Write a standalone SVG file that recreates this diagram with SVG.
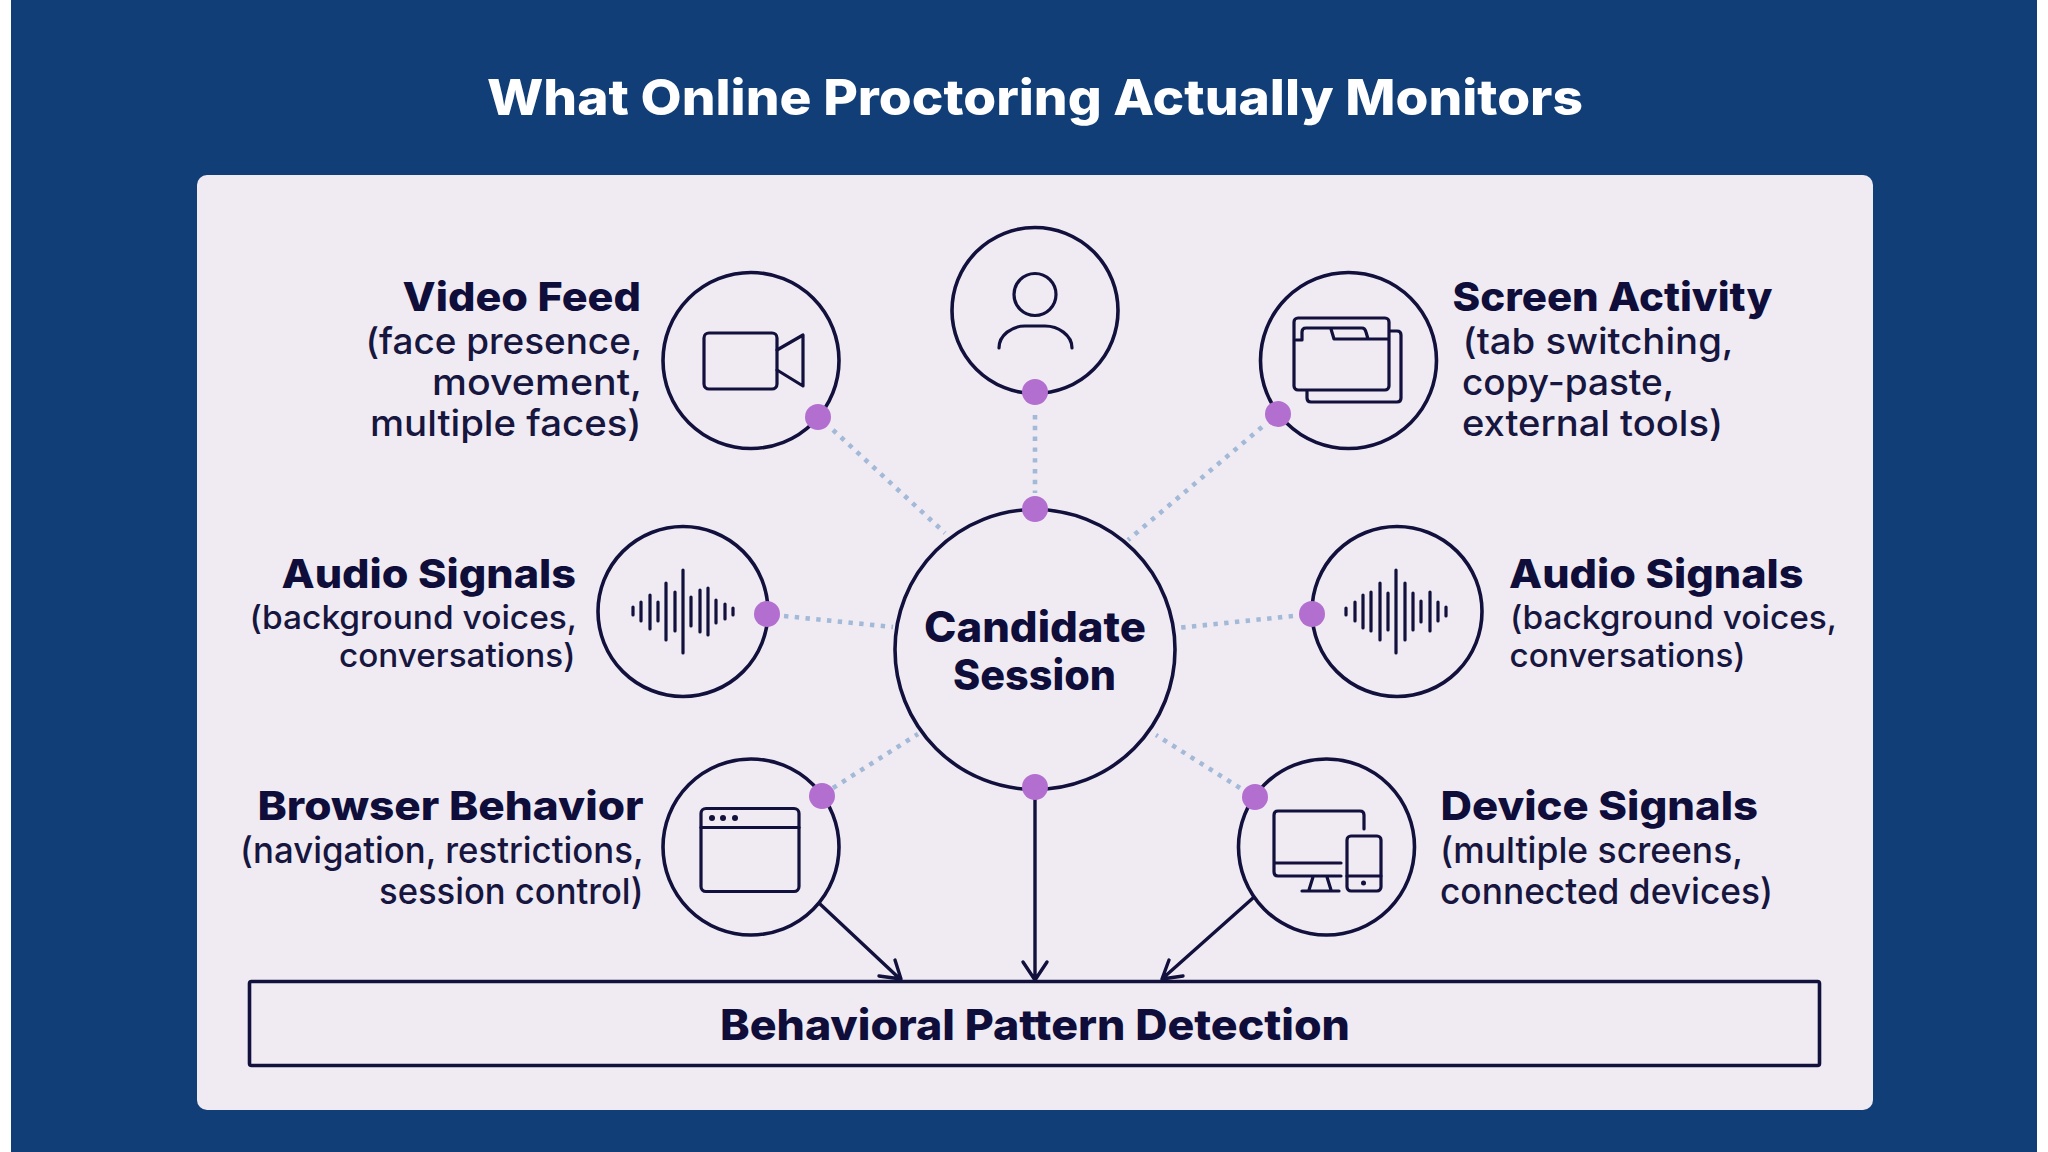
<svg xmlns="http://www.w3.org/2000/svg" width="2048" height="1152" viewBox="0 0 2048 1152">
<style>
text{font-family:"Inter","Liberation Sans",sans-serif;fill:#0e0c38}
.h{font-size:40px;font-weight:800;fill:#0f0d3a}
.b{font-size:36px;font-weight:500;fill:#17163f}
.s{font-size:33px;font-weight:500;fill:#17163f}
.c{font-size:42px;font-weight:800;fill:#0f0d3a}
.ring{fill:none;stroke:#12103c;stroke-width:3.600}
.i{fill:none;stroke:#12103c;stroke-width:3.200;stroke-linejoin:round;stroke-linecap:round}
.w{stroke:#12103c;stroke-width:3.200;stroke-linecap:round}
.dot{stroke:#a3b9d8;stroke-width:4.600;stroke-dasharray:4.400 6.400;fill:none}
.pt{fill:#b26fcf}
.arr{stroke:#12103c;stroke-width:3.400;fill:none;stroke-linecap:round;stroke-linejoin:round}
</style>
<g id="background">
<rect x="0" y="0" width="2048" height="1152" fill="#ffffff"/>
<rect x="11" y="0" width="2026" height="1152" fill="#113e77"/>
<rect x="197" y="175" width="1676" height="935" rx="10" fill="#f0ebf3"/>
</g>
<text id="title" x="487" y="115" textLength="1096" lengthAdjust="spacingAndGlyphs" style="font-size:49px;font-weight:800;fill:#ffffff">What Online Proctoring Actually Monitors</text>

<g id="node-person">
<circle class="ring" cx="1035" cy="310.500" r="83"/>
<circle class="i" cx="1035" cy="294.500" r="21"/>
<path class="i" d="M999 348C999 335 1012 326 1025 326H1045C1058 326 1072 335 1072 348"/>
</g>

<g id="node-video">
<circle class="ring" cx="751" cy="360.500" r="88"/>
<rect class="i" x="704" y="333" width="73" height="56" rx="5"/>
<path class="i" d="M777 350L803 335V386L777 370"/>
<text class="h" x="402.500" y="311" textLength="238.500" lengthAdjust="spacingAndGlyphs">Video Feed</text>
<text class="b" x="365.500" y="354" textLength="276.500" lengthAdjust="spacingAndGlyphs">(face presence,</text>
<text class="b" x="432" y="395" textLength="210" lengthAdjust="spacingAndGlyphs">movement,</text>
<text class="b" x="370" y="436" textLength="271.500" lengthAdjust="spacingAndGlyphs">multiple faces)</text>
</g>

<g id="node-screen">
<circle class="ring" cx="1348.500" cy="360.500" r="88"/>
<rect class="i" x="1294" y="318" width="95" height="72" rx="4"/>
<path class="i" d="M1390 331H1397Q1401 331 1401 335V398Q1401 402 1397 402H1311Q1307 402 1307 398V391"/>
<path class="i" d="M1296 340H1302V332Q1302 328 1306 328H1362Q1365 328 1366 332L1368 339H1388M1331 329L1334 339H1368"/>
<text class="h" x="1452.500" y="311" textLength="320" lengthAdjust="spacingAndGlyphs">Screen Activity</text>
<text class="b" x="1462.500" y="354" textLength="271" lengthAdjust="spacingAndGlyphs">(tab switching,</text>
<text class="b" x="1462" y="395" textLength="212" lengthAdjust="spacingAndGlyphs">copy-paste,</text>
<text class="b" x="1462" y="436" textLength="261" lengthAdjust="spacingAndGlyphs">external tools)</text>
</g>

<g id="node-audio-left">
<circle class="ring" cx="683" cy="611.500" r="85"/>
<path class="w" d="M633 607V615M641 602V621M650 595V629M658 602V621M666 583V640M675 592V631M683 570V653M691 597V626M700 590V632M708 588V635M716 600V623M725 604V619M733 608V615"/>
<text class="h" x="281.500" y="588" textLength="294.500" lengthAdjust="spacingAndGlyphs">Audio Signals</text>
<text class="s" x="249.500" y="629" textLength="327.500" lengthAdjust="spacingAndGlyphs">(background voices,</text>
<text class="s" x="339" y="667" textLength="236.500" lengthAdjust="spacingAndGlyphs">conversations)</text>
</g>

<g id="node-audio-right">
<circle class="ring" cx="1397" cy="611.500" r="85"/>
<path class="w" d="M1346 608V615M1355 602V621M1363 595V628M1371 592V631M1380 583V640M1388 593V630M1396 570V653M1405 583V640M1413 593V630M1421 601V622M1430 592V631M1438 602V621M1446 607V616"/>
<text class="h" x="1509" y="588" textLength="294.500" lengthAdjust="spacingAndGlyphs">Audio Signals</text>
<text class="s" x="1510" y="629" textLength="327" lengthAdjust="spacingAndGlyphs">(background voices,</text>
<text class="s" x="1509.500" y="667" textLength="236" lengthAdjust="spacingAndGlyphs">conversations)</text>
</g>

<g id="node-browser">
<circle class="ring" cx="751" cy="847" r="88"/>
<rect class="i" x="701" y="808.500" width="98" height="83" rx="5"/>
<path class="i" d="M701 827.500H799"/>
<circle cx="712" cy="818" r="3" fill="#12103c"/><circle cx="723" cy="818" r="3" fill="#12103c"/><circle cx="735" cy="818" r="3" fill="#12103c"/>
<text class="h" x="257.500" y="820" textLength="386" lengthAdjust="spacingAndGlyphs">Browser Behavior</text>
<text class="b" x="240" y="863" textLength="403.500" lengthAdjust="spacingAndGlyphs">(navigation, restrictions,</text>
<text class="b" x="379" y="904" textLength="264.500" lengthAdjust="spacingAndGlyphs">session control)</text>
</g>

<g id="node-device">
<circle class="ring" cx="1326.500" cy="847" r="88"/>
<path class="i" d="M1364 829V815Q1364 811 1360 811H1278Q1274 811 1274 815V872Q1274 876 1278 876H1341M1274 863H1341M1313 877L1309 890M1327 877L1331 890M1302 891H1339"/>
<rect class="i" x="1347" y="836" width="34" height="55" rx="4"/>
<path class="i" d="M1347 876H1381"/>
<circle cx="1363.500" cy="883" r="2.500" fill="#12103c"/>
<text class="h" x="1440.500" y="820" textLength="317.500" lengthAdjust="spacingAndGlyphs">Device Signals</text>
<text class="b" x="1440" y="863" textLength="303" lengthAdjust="spacingAndGlyphs">(multiple screens,</text>
<text class="b" x="1440" y="904" textLength="333" lengthAdjust="spacingAndGlyphs">connected devices)</text>
</g>

<g id="node-center">
<circle class="ring" cx="1035" cy="649.500" r="140"/>
<text class="c" x="924" y="642" textLength="222" lengthAdjust="spacingAndGlyphs">Candidate</text>
<text class="c" x="953" y="690" textLength="163" lengthAdjust="spacingAndGlyphs">Session</text>
</g>

<g id="node-detection">
<rect x="249.500" y="981.500" width="1570" height="84" rx="2" fill="none" stroke="#12103c" stroke-width="3.600"/>
<text class="c" x="720" y="1040" textLength="630" lengthAdjust="spacingAndGlyphs">Behavioral Pattern Detection</text>
</g>

<g id="connectors">
<path class="dot" d="M833 430L945 533"/>
<path class="dot" d="M1035 415V493"/>
<path class="dot" d="M1262 427L1128 540"/>
<path class="dot" d="M784 616L893 627"/>
<path class="dot" d="M1293 616L1177 628"/>
<path class="dot" d="M833 788L918 734"/>
<path class="dot" d="M1240 788L1156 735"/>
<path class="arr" d="M820 904L900 979M895 960L901 979L879 976"/>
<path class="arr" d="M1035 789V979M1023 962L1035 980L1047 962"/>
<path class="arr" d="M1253 898L1162 979M1169 960L1162 979L1183 976"/>
<circle class="pt" cx="818" cy="417" r="13"/>
<circle class="pt" cx="1035" cy="392" r="13"/>
<circle class="pt" cx="1035" cy="509" r="13"/>
<circle class="pt" cx="1278" cy="414" r="13"/>
<circle class="pt" cx="767" cy="614" r="13"/>
<circle class="pt" cx="1312" cy="614" r="13"/>
<circle class="pt" cx="822" cy="796" r="13"/>
<circle class="pt" cx="1255" cy="797" r="13"/>
<circle class="pt" cx="1035" cy="787" r="13"/>
</g>
</svg>
